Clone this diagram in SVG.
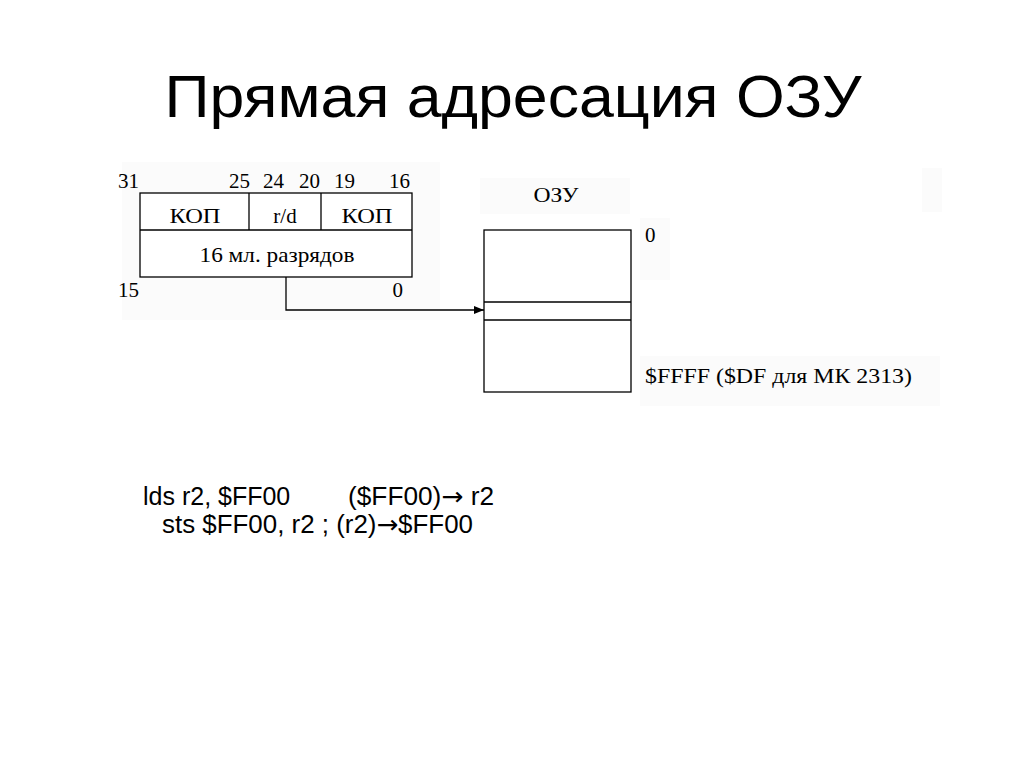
<svg xmlns="http://www.w3.org/2000/svg" width="1024" height="767" viewBox="0 0 1024 767">
<defs>
<style>
.ser{font-family:"Liberation Serif","Times New Roman",serif;font-size:21px;fill:#000}
.san{font-family:"Liberation Sans",Arial,sans-serif;fill:#000}
.arr{font-family:"DejaVu Sans",sans-serif}
.box{fill:#fff;stroke:#000;stroke-width:1.3}
.ln{stroke:#000;stroke-width:1.3;fill:none}
</style>
<marker id="ah" markerWidth="10" markerHeight="8" refX="10" refY="4" orient="auto" markerUnits="userSpaceOnUse">
<path d="M0,0 L10,4 L0,8 Z" fill="#000"/>
</marker>
</defs>
<rect x="0" y="0" width="1024" height="767" fill="#fff"/>
<rect x="122" y="162" width="318" height="158" fill="#fbfbfb"/>
<rect x="480" y="178" width="150" height="36" fill="#fbfbfb"/>
<rect x="640" y="218" width="30" height="62" fill="#fbfbfb"/>
<rect x="640" y="356" width="300" height="50" fill="#fbfbfb"/>
<rect x="922" y="168" width="20" height="44" fill="#fbfbfb"/>
<text id="title" class="san" x="513" y="117" font-size="60" text-anchor="middle" textLength="697" lengthAdjust="spacingAndGlyphs">Прямая адресация ОЗУ</text>
<g id="instruction">
<rect class="box" x="140" y="193" width="272" height="84"/>
<line class="ln" x1="140" y1="230" x2="412" y2="230"/>
<line class="ln" x1="249" y1="193" x2="249" y2="230"/>
<line class="ln" x1="321" y1="193" x2="321" y2="230"/>
<text class="ser" x="118" y="188">31</text>
<text class="ser" x="250" y="188" text-anchor="end">25</text>
<text class="ser" x="263" y="188">24</text>
<text class="ser" x="320" y="188" text-anchor="end">20</text>
<text class="ser" x="334" y="188">19</text>
<text class="ser" x="410" y="188" text-anchor="end">16</text>
<text class="ser" x="195" y="223" text-anchor="middle" textLength="51" lengthAdjust="spacingAndGlyphs">КОП</text>
<text class="ser" x="285" y="223" text-anchor="middle">r/d</text>
<text class="ser" x="367" y="223" text-anchor="middle" textLength="51" lengthAdjust="spacingAndGlyphs">КОП</text>
<text class="ser" x="277" y="262" text-anchor="middle" textLength="155" lengthAdjust="spacingAndGlyphs">16 мл. разрядов</text>
<text class="ser" x="118" y="297">15</text>
<text class="ser" x="403" y="297" text-anchor="end">0</text>
</g>
<g id="ram">
<text class="ser" x="556" y="202" text-anchor="middle" textLength="45" lengthAdjust="spacingAndGlyphs">ОЗУ</text>
<rect class="box" x="484" y="230" width="147" height="162"/>
<line class="ln" x1="484" y1="302" x2="631" y2="302"/>
<line class="ln" x1="484" y1="320" x2="631" y2="320"/>
<text class="ser" x="645" y="242">0</text>
<text class="ser" x="645" y="383" textLength="267" lengthAdjust="spacingAndGlyphs">$FFFF ($DF для МК 2313)</text>
</g>
<g id="connectors">
<path class="ln" d="M286,277 V310 H484" marker-end="url(#ah)"/>
</g>
<g id="code">
<text class="san" x="143" y="505" font-size="25">lds r2, $FF00</text>
<text class="san" x="348" y="505" font-size="25" textLength="146" lengthAdjust="spacingAndGlyphs">($FF00)<tspan class="arr">→</tspan> r2</text>
<text class="san" x="162" y="533" font-size="25" textLength="311" lengthAdjust="spacingAndGlyphs">sts $FF00, r2 ; (r2)<tspan class="arr">→</tspan>$FF00</text>
</g>
</svg>
